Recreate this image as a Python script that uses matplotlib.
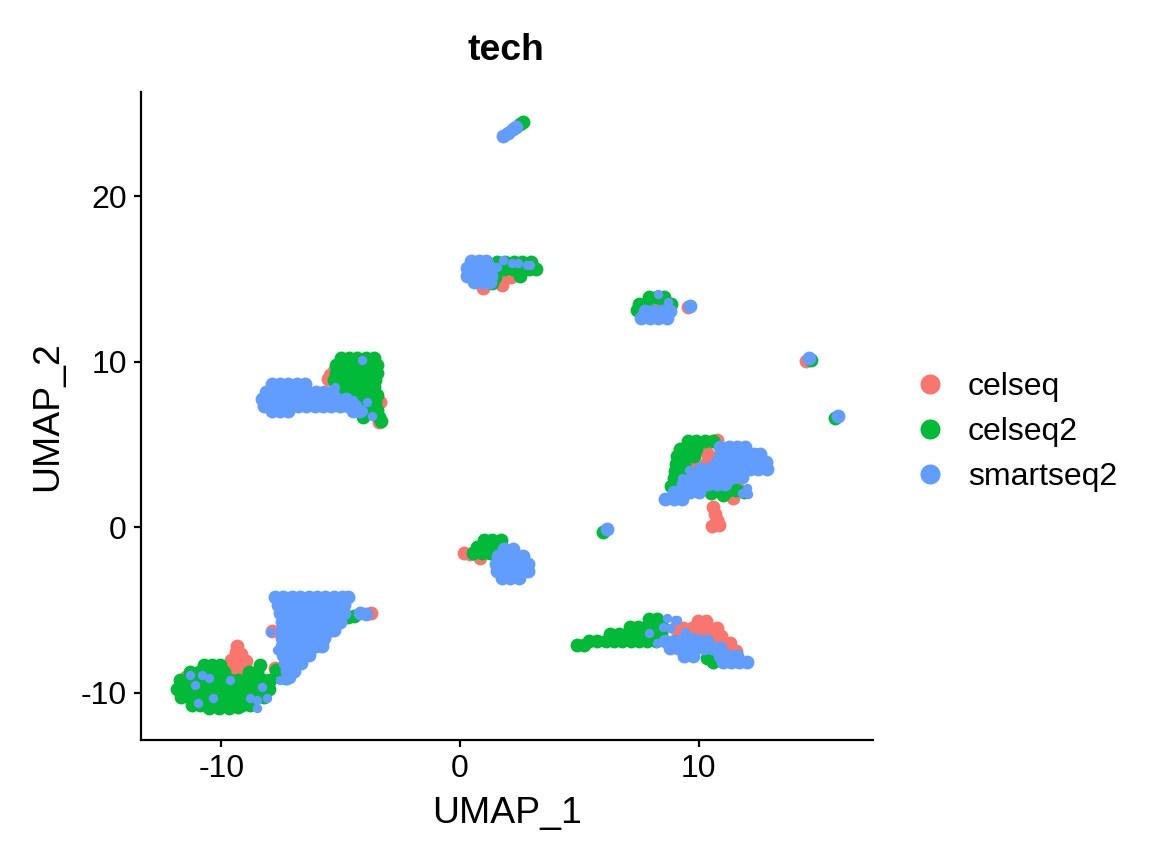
import matplotlib
matplotlib.use("Agg")
import matplotlib.pyplot as plt
from matplotlib.lines import Line2D
import numpy as np

plt.rcParams['font.family'] = ['Liberation Sans', 'DejaVu Sans']

categories = ["celseq", "celseq2", "smartseq2"]
colors = ["#F8766D", "#00BA38", "#619CFF"]
x_ticks = [-10, 0, 10]
y_ticks = [-10, 0, 10, 20]

# ---------------- celseq (dense groups) ----------------
celseq_a = [(-5.45, 9.2), (-5.3, 9.45), (-5.55, 8.95), (-3.4, 6.35), (-3.35, 7.6)]
celseq_b = [(-9.35, -7.15), (-9.4, -7.55), (-9.2, -7.65), (-9.6, -8.0), (-9.25, -8.05),
            (-8.95, -8.1), (-9.5, -8.45), (-9.15, -8.45), (-9.45, -8.8), (-9.1, -8.8),
            (-10.6, -8.5), (-7.76, -8.5), (-11.5, -9.06), (-7.9, -6.25), (-5.58, -6.34),
            (-3.75, -5.2)]
celseq_c = [(1.8, 14.95), (2.15, 15.15), (1.75, 14.65), (0.96, 14.45)]
celseq_d = [(0.15, -1.55), (0.4, -1.6), (0.84, -1.87)]
celseq_e = [(10.35, 4.5), (10.6, 4.2), (10.3, 3.9), (10.78, 5.26), (9.75, 3.85), (9.77, 3.3),
            (9.5, 2.84), (9.15, 2.5), (10.6, 1.2), (10.7, 0.8), (10.75, 0.45), (10.55, 0.1),
            (10.85, 0.15), (11.45, 1.8), (11.6, 2.45)]
celseq_f = [(9.95, -5.65), (10.3, -5.65),
            (9.0, -6.1), (9.35, -6.1), (9.7, -6.1), (10.05, -6.1), (10.4, -6.1), (10.75, -6.1),
            (9.2, -6.55), (9.55, -6.55), (9.9, -6.55), (10.25, -6.55), (10.6, -6.55), (10.95, -6.55),
            (10.6, -7.0), (10.95, -7.0), (11.3, -7.0), (11.2, -7.45), (11.55, -7.45)]
celseq_g = [(8.0, 13.45), (8.3, 13.3), (7.85, 12.9), (9.55, 13.3)]
celseq_s = [(14.5, 10.05)]

# ---------------- celseq2 (dense groups) ----------------
celseq2_a = [(-5.0, 10.25), (-4.65, 10.25), (-4.3, 10.25), (-3.95, 10.25), (-3.6, 10.25),
             (-5.2, 9.8), (-4.85, 9.8), (-4.5, 9.8), (-4.15, 9.8), (-3.8, 9.8), (-3.5, 9.8),
             (-5.2, 9.35), (-4.85, 9.35), (-4.5, 9.35), (-4.15, 9.35), (-3.8, 9.35), (-3.5, 9.35),
             (-5.3, 8.9), (-4.95, 8.9), (-4.6, 8.9), (-4.25, 8.9), (-3.9, 8.9), (-3.55, 8.9),
             (-5.0, 8.45), (-4.65, 8.45), (-4.3, 8.45), (-3.95, 8.45), (-3.6, 8.45),
             (-4.9, 8.0), (-4.55, 8.0), (-4.2, 8.0), (-3.85, 8.0), (-3.5, 8.0),
             (-4.25, 7.55), (-3.55, 7.55), (-4.25, 7.1), (-3.9, 7.1), (-3.5, 7.1),
             (-4.05, 6.65), (-3.4, 6.65), (-3.3, 6.4)]
celseq2_b = [(-10.75, -8.3), (-10.4, -8.3), (-10.05, -8.3),
             (-11.3, -8.75), (-10.95, -8.75), (-10.6, -8.75), (-10.25, -8.75), (-9.9, -8.75),
             (-8.85, -8.75), (-8.5, -8.75),
             (-11.75, -9.25), (-11.4, -9.25), (-11.05, -9.25), (-10.7, -9.25), (-10.35, -9.25),
             (-10.0, -9.25), (-9.65, -9.25), (-9.3, -9.25), (-8.95, -9.25), (-8.6, -9.25),
             (-8.25, -9.25), (-7.95, -9.25),
             (-11.85, -9.75), (-11.5, -9.75), (-11.15, -9.75), (-10.8, -9.75), (-10.45, -9.75),
             (-10.1, -9.75), (-9.75, -9.75), (-9.4, -9.75), (-9.05, -9.75), (-8.7, -9.75),
             (-8.35, -9.75), (-8.0, -9.75),
             (-11.7, -10.25), (-11.35, -10.25), (-11.0, -10.25), (-10.65, -10.25), (-10.3, -10.25),
             (-9.95, -10.25), (-9.6, -10.25), (-9.25, -10.25), (-8.9, -10.25), (-8.55, -10.25),
             (-8.2, -10.25),
             (-11.25, -10.75), (-10.9, -10.75), (-10.55, -10.75), (-10.2, -10.75), (-9.85, -10.75),
             (-9.5, -10.75), (-9.15, -10.75), (-8.8, -10.75),
             (-10.5, -10.9), (-10.1, -10.9), (-9.7, -10.9), (-9.3, -10.85),
             (-8.4, -8.3), (-7.7, -8.65), (-7.3, -9.1), (-4.7, -5.44), (-4.45, -5.35)]
celseq2_c = [(1.55, 16.05), (1.9, 16.05), (2.25, 16.05), (2.6, 16.05), (2.95, 16.05),
             (1.5, 15.6), (1.85, 15.6), (2.2, 15.6), (2.55, 15.6), (2.9, 15.6), (3.2, 15.6),
             (1.45, 15.15), (2.5, 15.2), (1.35, 14.75)]
celseq2_d = [(1.0, -0.75), (1.35, -0.75), (1.7, -0.75),
             (0.7, -1.2), (1.05, -1.2), (1.4, -1.2), (1.75, -1.2),
             (0.55, -1.55), (0.9, -1.55), (1.25, -1.55)]
celseq2_e = [(9.55, 5.2), (9.9, 5.2), (10.25, 5.2), (10.6, 5.2),
             (9.2, 4.75), (9.55, 4.75), (9.9, 4.75),
             (9.1, 4.3), (9.45, 4.3), (9.8, 4.3),
             (9.05, 3.85), (9.4, 3.85), (9.0, 3.4), (9.35, 3.4),
             (8.95, 2.95), (9.25, 2.95), (8.85, 2.5),
             (10.5, 2.1), (10.85, 2.2), (11.2, 2.2), (11.55, 2.25), (11.9, 2.15), (11.0, 1.95)]
celseq2_f = [(7.9, -5.55), (8.25, -5.55),
             (7.1, -6.0), (7.45, -6.0), (7.8, -6.0), (8.15, -6.0), (8.45, -6.0),
             (6.3, -6.45), (6.65, -6.45), (7.0, -6.45), (7.35, -6.45), (7.7, -6.45), (8.05, -6.45),
             (8.4, -6.45),
             (5.4, -6.85), (5.75, -6.85), (6.1, -6.85), (6.45, -6.85), (6.8, -6.85), (7.15, -6.85),
             (7.5, -6.85), (7.85, -6.85), (8.2, -6.85),
             (4.9, -7.1), (5.2, -7.1), (10.36, -7.9), (10.6, -8.15)]
celseq2_g = [(7.9, 13.9), (8.25, 13.9), (8.55, 13.9),
             (7.5, 13.5), (7.8, 13.5), (8.6, 13.5), (8.85, 13.5), (7.4, 13.15)]
celseq2_h = [(2.5, 24.35), (2.65, 24.5)]
celseq2_s = [(14.7, 10.1), (15.7, 6.6), (6.0, -0.3)]

# ---------------- smartseq2 (dense groups) ----------------
smartseq2_a = [(-7.9, 8.65), (-7.55, 8.65), (-7.2, 8.65), (-6.85, 8.65), (-6.5, 8.65),
               (-8.15, 8.2), (-7.8, 8.2), (-7.45, 8.2), (-7.1, 8.2), (-6.75, 8.2), (-6.4, 8.2),
               (-6.05, 8.2), (-5.7, 8.2), (-5.35, 8.2),
               (-8.3, 7.75), (-7.95, 7.75), (-7.6, 7.75), (-7.25, 7.75), (-6.9, 7.75), (-6.55, 7.75),
               (-6.2, 7.75), (-5.85, 7.75), (-5.5, 7.75), (-5.15, 7.75), (-4.8, 7.75),
               (-8.2, 7.3), (-7.85, 7.3), (-7.5, 7.3), (-7.15, 7.3), (-6.8, 7.3), (-6.45, 7.3),
               (-6.1, 7.3), (-5.75, 7.3), (-5.4, 7.3), (-5.05, 7.3), (-4.7, 7.3), (-4.4, 7.3),
               (-7.9, 7.0), (-7.55, 7.0), (-7.2, 7.0), (-4.5, 7.0), (-4.2, 7.0)]
smartseq2_b = [(-7.75, -4.2), (-7.4, -4.2), (-7.05, -4.2), (-6.7, -4.2), (-6.35, -4.2), (-6.0, -4.2),
               (-5.65, -4.2), (-5.3, -4.2), (-4.95, -4.2), (-4.7, -4.2),
               (-7.65, -4.7), (-7.3, -4.7), (-6.95, -4.7), (-6.6, -4.7), (-6.25, -4.7), (-5.9, -4.7),
               (-5.55, -4.7), (-5.2, -4.7), (-4.85, -4.7),
               (-7.55, -5.2), (-7.2, -5.2), (-6.85, -5.2), (-6.5, -5.2), (-6.15, -5.2), (-5.8, -5.2),
               (-5.45, -5.2), (-5.1, -5.2), (-4.85, -5.2),
               (-7.45, -5.7), (-7.1, -5.7), (-6.75, -5.7), (-6.4, -5.7), (-6.05, -5.7), (-5.7, -5.7),
               (-5.35, -5.7), (-5.05, -5.7),
               (-7.45, -6.2), (-7.1, -6.2), (-6.75, -6.2), (-6.4, -6.2), (-6.05, -6.2), (-5.7, -6.2),
               (-5.3, -6.2),
               (-7.45, -6.7), (-7.1, -6.7), (-6.75, -6.7), (-6.4, -6.7), (-6.05, -6.7), (-5.7, -6.7),
               (-7.45, -7.2), (-7.1, -7.2), (-6.75, -7.2), (-6.4, -7.2), (-6.05, -7.2), (-5.8, -7.2),
               (-7.4, -7.7), (-7.05, -7.7), (-6.7, -7.7), (-6.35, -7.7),
               (-7.35, -8.2), (-7.0, -8.2), (-6.65, -8.2),
               (-7.25, -8.7), (-6.95, -8.7), (-7.15, -9.05),
               (-4.2, -5.15), (-3.95, -5.25)]
smartseq2_c = [(0.45, 16.1), (0.8, 16.1), (1.1, 16.1),
               (0.3, 15.65), (0.65, 15.65), (1.0, 15.65), (1.3, 15.65),
               (0.3, 15.2), (0.65, 15.2), (1.0, 15.2), (1.3, 15.2),
               (0.6, 14.8), (0.95, 14.8), (1.25, 14.8)]
smartseq2_d = [(1.85, -1.3), (2.2, -1.3),
               (1.6, -1.75), (1.95, -1.75), (2.3, -1.75), (2.65, -1.75),
               (1.5, -2.2), (1.85, -2.2), (2.2, -2.2), (2.55, -2.2), (2.85, -2.2),
               (1.55, -2.65), (1.9, -2.65), (2.25, -2.65), (2.6, -2.65), (2.85, -2.65),
               (1.75, -3.05), (2.1, -3.05), (2.45, -3.05)]
smartseq2_e = [(10.9, 4.85), (11.25, 4.85), (11.6, 4.85), (11.95, 4.85),
               (10.95, 4.4), (11.3, 4.4), (11.65, 4.4), (12.0, 4.4), (12.3, 4.4), (12.55, 4.4),
               (10.75, 3.95), (11.1, 3.95), (11.45, 3.95), (11.8, 3.95), (12.15, 3.95), (12.5, 3.95),
               (12.8, 3.95),
               (10.05, 3.5), (10.4, 3.5), (10.75, 3.5), (11.1, 3.5), (11.45, 3.5), (11.8, 3.5),
               (12.15, 3.5), (12.5, 3.5), (12.85, 3.5),
               (9.7, 3.05), (10.05, 3.05), (10.4, 3.05), (10.75, 3.05), (11.1, 3.05), (11.45, 3.05),
               (11.8, 3.05),
               (9.35, 2.6), (9.7, 2.6), (10.05, 2.6), (10.4, 2.6), (10.75, 2.6), (11.1, 2.6),
               (8.95, 2.15), (9.3, 2.15), (9.65, 2.15), (10.0, 2.15),
               (8.6, 1.7), (8.95, 1.7), (9.3, 1.7)]
smartseq2_f = [(8.6, -6.85), (8.95, -6.85), (9.3, -6.85), (9.65, -6.85), (10.0, -6.85), (10.35, -6.85),
               (8.8, -7.3), (9.15, -7.3), (9.5, -7.3), (9.85, -7.3), (10.2, -7.3), (10.55, -7.3),
               (10.9, -7.3),
               (9.4, -7.75), (9.75, -7.75), (10.9, -7.75), (11.25, -7.75), (11.6, -7.75),
               (11.0, -8.15), (11.35, -8.15), (11.7, -8.15), (12.0, -8.15)]
smartseq2_g = [(7.75, 13.05), (8.1, 13.05), (8.45, 13.05), (8.8, 13.05),
               (7.6, 12.65), (7.95, 12.65), (8.3, 12.65), (8.65, 12.65), (9.64, 13.35)]
smartseq2_h = [(1.8, 23.65), (2.0, 23.85), (2.2, 24.05), (2.35, 24.2)]
smartseq2_s = [(14.6, 10.2), (15.85, 6.75), (6.15, -0.1)]

# ---------------- smartseq2 single cells scattered over other groups ----------------
smartseq2_single = [(-4.1, 10.1), (-5.24, 8.46), (-3.9, 7.55), (-4.07, 7.0), (-3.69, 6.7),
                    (-4.49, 7.67),
                    (-7.95, -6.3), (-7.67, -7.4), (-7.25, -9.24), (-7.55, -9.24),
                    (-11.3, -8.94), (-10.8, -8.94), (-10.5, -9.12), (-11.1, -9.55), (-10.36, -10.3),
                    (-11.0, -10.6), (-8.8, -10.3), (-8.5, -10.45), (-8.3, -9.67), (-8.1, -10.3),
                    (-8.5, -10.9), (-9.64, -9.2),
                    (1.8, 16.13), (2.18, 15.95), (2.43, 15.95), (2.8, 15.83), (2.94, 15.83),
                    (1.55, 15.7),
                    (9.3, 3.0), (9.6, 3.45), (11.82, 2.05), (12.08, 2.0), (12.03, 2.36),
                    (8.68, -5.5), (9.0, -5.62), (9.1, -5.6), (9.43, -6.33), (8.8, -6.1), (8.5, -6.03),
                    (7.9, -6.4), (8.26, -7.0), (9.77, -6.63),
                    (8.3, 14.1), (8.72, 13.6)]

celseq = celseq_a + celseq_b + celseq_c + celseq_d + celseq_e + celseq_f + celseq_g + celseq_s
celseq2 = (celseq2_a + celseq2_b + celseq2_c + celseq2_d + celseq2_e + celseq2_f
           + celseq2_g + celseq2_h + celseq2_s)
smartseq2 = (smartseq2_a + smartseq2_b + smartseq2_c + smartseq2_d + smartseq2_e
             + smartseq2_f + smartseq2_g + smartseq2_h + smartseq2_s)
series = [celseq, celseq2, smartseq2]

W, H, DPI = 1152, 865, 144
fig = plt.figure(figsize=(W / DPI, H / DPI), dpi=DPI)
ax = fig.add_axes([141 / W, 1 - 740 / H, (873 - 141) / W, (740 - 92) / H])

for pts, col in zip(series, colors):
    arr = np.array(pts)
    ax.scatter(arr[:, 0], arr[:, 1], s=48, c=col, linewidths=0)
single = np.array(smartseq2_single)
ax.scatter(single[:, 0], single[:, 1], s=22, c=colors[2], linewidths=0)

ax.set_xlim(-13.37, 17.3)
ax.set_ylim(-12.85, 26.3)
ax.set_xticks(x_ticks)
ax.set_yticks(y_ticks)
ax.set_xticklabels([str(v) for v in x_ticks])
ax.set_yticklabels([str(v) for v in y_ticks])
for side in ["top", "right"]:
    ax.spines[side].set_visible(False)
for side in ["left", "bottom"]:
    ax.spines[side].set_linewidth(1.1)
ax.tick_params(length=3.5, width=1.1, labelsize=16, pad=3.5, colors="black")

ax.set_xlabel("UMAP_1", fontsize=18.7)
ax.xaxis.set_label_coords(0.5, -(813 - 740) / 648)
ax.xaxis.label.set_va("center")
ax.set_ylabel("UMAP_2", fontsize=18.7)
ax.yaxis.set_label_coords((48 - 141) / 732, 0.5)
ax.yaxis.label.set_va("center")

fig.text(506 / W, 1 - 50 / H, "tech", fontsize=18.7, fontweight="bold", ha="center", va="center")

handles = [Line2D([], [], marker="o", linestyle="", markersize=10, markerfacecolor=c,
                  markeredgewidth=0) for c in colors]
fig.legend(handles, categories, loc="center left", bbox_to_anchor=(914 / W, 1 - 432 / H),
           frameon=False, fontsize=16, handlelength=1.0, handletextpad=0.69,
           labelspacing=0.46, borderpad=0, borderaxespad=0)

fig.savefig("out.png", dpi=DPI)
